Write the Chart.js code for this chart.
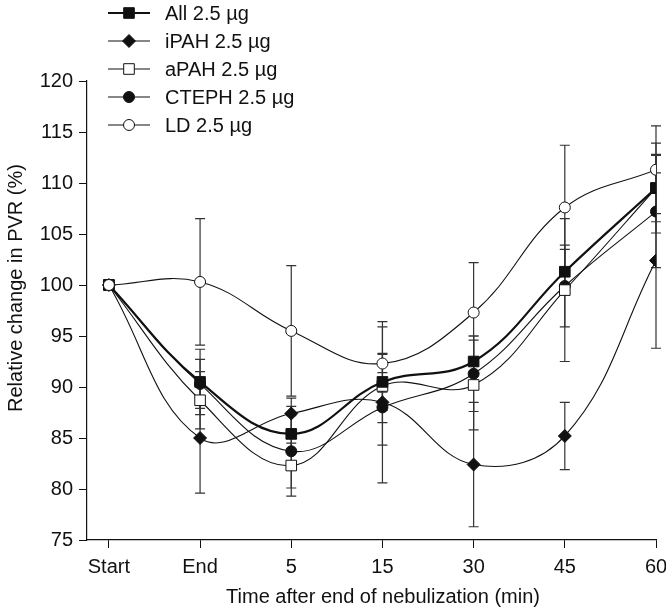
<!DOCTYPE html>
<html>
<head>
<meta charset="utf-8">
<script src="https://cdn.jsdelivr.net/npm/chart.js@4/dist/chart.umd.min.js"></script>
<style>
  html, body { margin: 0; padding: 0; background: #fff; }
  #wrap { width: 666px; height: 614px; }
</style>
</head>
<body>
<div id="wrap"><canvas id="pvrChart"></canvas></div>
<script>
// categories on the x axis (minutes after end of nebulization)
const timeLabels = ['Start', 'End', '5', '15', '30', '45', '60'];
const yTicks = [75, 80, 85, 90, 95, 100, 105, 110, 115, 120];

// mean relative change in PVR (%) and error bar half-length
const allMean   = [100, 90.5, 85.4, 90.5, 92.5, 101.3, 109.5];
const allErr    = [0, 3.2, 1.8, 2.8, 2.5, 2.2, 4.4];
const ipahMean  = [100, 85.0, 87.4, 88.5, 82.4, 85.2, 102.4];
const ipahErr   = [0, 5.4, 1.5, 7.9, 6.1, 3.3, 8.6];
const apahMean  = [100, 88.7, 82.3, 90.1, 90.2, 99.5, 109.5];
const apahErr   = [0, 2.8, 2.2, 5.8, 4.4, 7.0, 3.3];
const ctephMean = [100, 90.3, 83.7, 88.0, 91.3, 99.9, 107.2];
const ctephErr  = [0, 2.4, 4.4, 1.5, 3.7, 4.0, 5.5];
const ldMean    = [100, 100.3, 95.5, 92.3, 97.3, 107.6, 111.3];
const ldErr     = [0, 6.2, 6.4, 0.9, 4.9, 6.1, 4.3];

const FONT = "'Liberation Sans', Arial, sans-serif";
const FSIZE = 20;
const INK = '#111';

function points(arr) {
    return arr.map((v, i) => ({ x: i, y: v }));
}

function series(label, mean, err, style, fill, radius, width, order) {
    return {
        label: label,
        data: points(mean),
        errors: err,
        borderColor: INK,
        borderWidth: width,
        backgroundColor: fill,
        pointStyle: style,
        pointRadius: radius,
        pointHoverRadius: radius,
        pointBackgroundColor: fill,
        pointBorderColor: INK,
        pointBorderWidth: 1,
        tension: 0.4,
        order: order
    };
}

// vertical error bars with caps, drawn under the lines
const errorBars = {
    id: 'errorBars',
    beforeDatasetsDraw(chart) {
        const { ctx, scales: { x, y } } = chart;
        ctx.save();
        ctx.strokeStyle = '#333';
        ctx.lineWidth = 1.2;
        chart.data.datasets.forEach(ds => {
            ds.errors.forEach((e, i) => {
                if (!e) return;
                const px = x.getPixelForValue(i);
                const top = y.getPixelForValue(ds.data[i].y + e);
                const bot = y.getPixelForValue(ds.data[i].y - e);
                ctx.beginPath();
                ctx.moveTo(px, top); ctx.lineTo(px, bot);
                ctx.moveTo(px - 5, top); ctx.lineTo(px + 5, top);
                ctx.moveTo(px - 5, bot); ctx.lineTo(px + 5, bot);
                ctx.stroke();
            });
        });
        ctx.restore();
    }
};

// legend with a line segment and marker, plus the two axis titles
const extras = {
    id: 'extras',
    afterDraw(chart) {
        const ctx = chart.ctx;
        ctx.save();
        ctx.font = FSIZE + 'px ' + FONT;
        chart.data.datasets.forEach((ds, i) => {
            const cy = 13 + i * 28;
            ctx.strokeStyle = INK;
            ctx.lineWidth = ds.borderWidth;
            ctx.beginPath();
            ctx.moveTo(108, cy);
            ctx.lineTo(150, cy);
            ctx.stroke();
            ctx.fillStyle = ds.pointBackgroundColor;
            ctx.lineWidth = 1;
            Chart.helpers.drawPoint(ctx, { pointStyle: ds.pointStyle, radius: ds.pointRadius, borderWidth: 1, rotation: 0 }, 129, cy);
            ctx.fillStyle = INK;
            ctx.textBaseline = 'middle';
            ctx.textAlign = 'left';
            ctx.fillText(ds.label, 165, cy + 1);
        });

        ctx.textAlign = 'center';
        ctx.textBaseline = 'middle';
        ctx.fillText('Time after end of nebulization (min)', 383, 597);

        ctx.translate(16, 288);
        ctx.rotate(-Math.PI / 2);
        ctx.fillText('Relative change in PVR (%)', 0, 0);
        ctx.restore();
    }
};

const ctx = document.getElementById('pvrChart').getContext('2d');
const pvrChart = new Chart(ctx, {
    type: 'line',
    data: {
        datasets: [
            series('All 2.5 µg', allMean, allErr, 'rect', INK, 7.5, 2.2, 1),
            series('iPAH 2.5 µg', ipahMean, ipahErr, 'rectRot', INK, 6.5, 1.1, 2),
            series('aPAH 2.5 µg', apahMean, apahErr, 'rect', '#fff', 7.5, 1.1, 3),
            series('CTEPH 2.5 µg', ctephMean, ctephErr, 'circle', INK, 5.5, 1.1, 4),
            series('LD 2.5 µg', ldMean, ldErr, 'circle', '#fff', 5.5, 1.1, 0)
        ]
    },
    options: {
        responsive: true,
        maintainAspectRatio: false,
        animation: false,
        layout: { padding: { left: 0, top: 81, right: 10, bottom: 0 } },
        plugins: {
            legend: { display: false },
            tooltip: { enabled: false }
        },
        scales: {
            x: {
                type: 'linear',
                min: -0.24,
                max: 6,
                afterBuildTicks: scale => {
                    scale.ticks = timeLabels.map((_, i) => ({ value: i }));
                },
                afterFit: scale => {
                    scale.height = 74;
                    scale.paddingLeft = 0;
                    scale.paddingRight = 0;
                },
                ticks: {
                    callback: v => timeLabels[v],
                    color: INK,
                    font: { family: FONT, size: FSIZE },
                    padding: 7,
                    maxRotation: 0
                },
                grid: { drawOnChartArea: false, tickLength: 8, color: INK },
                border: { color: INK, width: 1.2 }
            },
            y: {
                min: 75,
                max: 120,
                afterBuildTicks: scale => {
                    scale.ticks = yTicks.map(v => ({ value: v }));
                },
                afterFit: scale => {
                    scale.width = 87;
                    scale.paddingTop = 0;
                    scale.paddingBottom = 0;
                },
                ticks: {
                    color: INK,
                    font: { family: FONT, size: FSIZE },
                    padding: 6
                },
                grid: { drawOnChartArea: false, tickLength: 8, color: INK },
                border: { color: INK, width: 1.2 }
            }
        }
    },
    plugins: [errorBars, extras]
});
</script>
</body>
</html>
